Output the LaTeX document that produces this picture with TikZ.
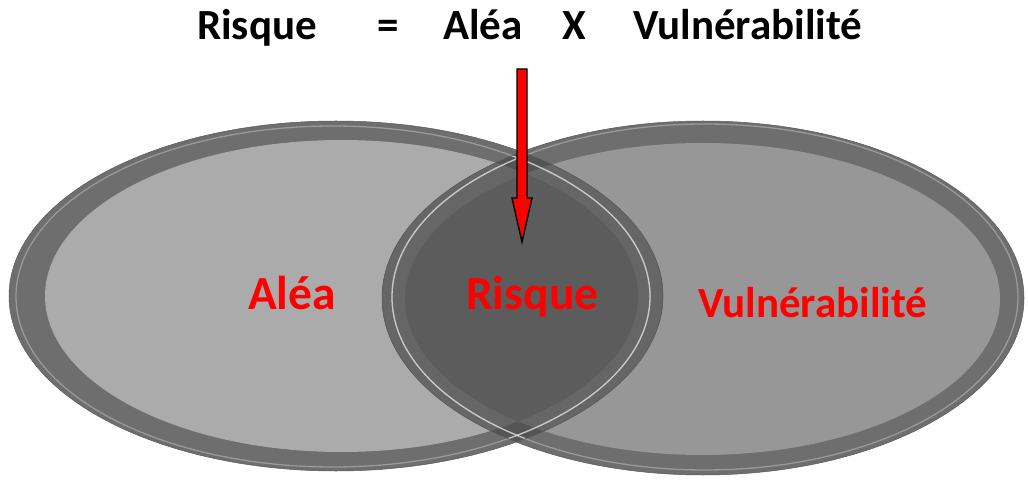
\documentclass[tikz,border=0pt]{standalone}
\usepackage{fontspec}
\setmainfont{Carlito}
\usepackage{xcolor}
\usepackage{tikz}

\definecolor{rimgray}{HTML}{6E6E6E}
\definecolor{alealight}{HTML}{ABABAB}
\definecolor{vulngray}{HTML}{979797}
\definecolor{lensrim}{HTML}{666666}
\definecolor{lenscross}{HTML}{545454}
\definecolor{lensdark}{HTML}{5C5C5C}

\tikzset{
  word/.style={inner sep=0pt, anchor=base west, font=\fontsize{43}{46}\selectfont\bfseries},
  label/.style={inner sep=0pt, anchor=base west, text=red, font=\fontsize{47.5}{50}\selectfont\bfseries},
  shine/.style={line width=1.3pt, white}
}

\begin{document}
\begin{tikzpicture}[x=1pt,y=-1pt]
\useasboundingbox (0,0) rectangle (1028,486);

% the two plates
\fill[rimgray] (336,296) ellipse [x radius=327, y radius=175];
\fill[alealight] (341.5,296) ellipse [x radius=296.5, y radius=156];
\fill[rimgray] (703,298) ellipse [x radius=321, y radius=177];
\fill[vulngray] (702.5,299) ellipse [x radius=297.5, y radius=156];

% overlap of the plates
\begin{scope}
\clip (336,296) ellipse [x radius=327, y radius=175];
\clip (703,298) ellipse [x radius=321, y radius=177];
\fill[lenscross] (300,100) rectangle (700,490);
\begin{scope}
\clip (341.5,296) ellipse [x radius=296.5, y radius=156];
\fill[lensrim] (300,100) rectangle (700,490);
\end{scope}
\begin{scope}
\clip (702.5,299) ellipse [x radius=297.5, y radius=156];
\fill[lensrim] (300,100) rectangle (700,490);
\end{scope}
\clip (341.5,296) ellipse [x radius=296.5, y radius=156];
\clip (702.5,299) ellipse [x radius=297.5, y radius=156];
\fill[lensdark] (300,100) rectangle (700,490);
\end{scope}

% light edges on the rims
\draw[shine, opacity=0.3] (333,296.5) ellipse [x radius=317, y radius=170.5];
\draw[shine, opacity=0.3] (705,297) ellipse [x radius=313, y radius=173];
\begin{scope}
\clip (336,296) ellipse [x radius=327, y radius=175];
\clip (703,298) ellipse [x radius=321, y radius=177];
\draw[shine, opacity=0.5] (333,296.5) ellipse [x radius=317, y radius=170.5];
\draw[shine, opacity=0.5] (705,297) ellipse [x radius=313, y radius=173];
\end{scope}
\draw[gray!70!black, line width=0.5pt] (336,296) ellipse [x radius=327, y radius=175];
\draw[gray!70!black, line width=0.5pt] (703,298) ellipse [x radius=321, y radius=177];

% formula
\node[word] (risque) at (197,40) {Risque};
\node[word] (egal) at (377,40) {=};
\node[word] (alea) at (443,40) {Aléa};
\node[word] (fois) at (562,40) {X};
\node[word] (vuln) at (633,40) {Vulnérabilité};

% labels in the plates
\node[label] (aleatxt) at (248,309) {Aléa};
\node[label] (risquetxt) at (466,310) {Risque};
\node[label, font=\fontsize{43}{46}\selectfont\bfseries] (vulntxt) at (698,318) {Vulnérabilité};

% red arrow
\coordinate (arrowtop) at (522,69);
\coordinate (arrowtip) at (522,242);
\filldraw[fill=red, draw=black, line width=1.4pt, line join=miter]
  (517,69) -- (527,69) -- (527,198) -- (532,198) -- (arrowtip) -- (512,198) -- (517,198) -- cycle;
\end{tikzpicture}
\end{document}
